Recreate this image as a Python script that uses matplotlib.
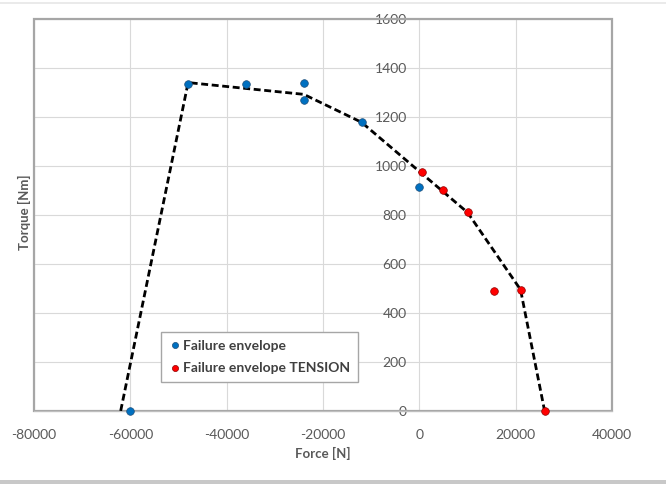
import matplotlib.pyplot as plt
from matplotlib.lines import Line2D
from matplotlib.patches import Rectangle

# failure envelope data
blue_force = [-60000, -48000, -36000, -24000, -24000, -12000, 0]
blue_torque = [0, 1335, 1335, 1338, 1270, 1180, 915]
red_force = [500, 5000, 10000, 15500, 21000, 26000]
red_torque = [975, 900, 810, 488, 492, 0]
env_force = [-62000, -48000, -24000, -12000, 10000, 21000, 26000]
env_torque = [0, 1340, 1292, 1178, 810, 495, 0]

x_ticks = [-80000, -60000, -40000, -20000, 0, 20000, 40000]
y_ticks = [0, 200, 400, 600, 800, 1000, 1200, 1400, 1600]

plt.rcParams["font.family"] = ["Lato", "DejaVu Sans"]
plt.rcParams["axes.unicode_minus"] = False
label_col = "#595959"

fig = plt.figure(figsize=(6.66, 4.84), dpi=100)
ax = fig.add_axes([0.051, 0.151, 0.868, 0.810])

ax.set_xlim(-80000, 40000)
ax.set_ylim(0, 1600)
ax.set_xticks(x_ticks)
ax.set_yticks(y_ticks)
ax.grid(True, color="#d9d9d9", lw=0.8)
ax.set_axisbelow(True)

# y axis crosses at force = 0, like Excel
ax.spines["left"].set_position(("data", 0))
ax.spines["left"].set_visible(False)
for s in ["top", "right"]:
    ax.spines[s].set_visible(False)
ax.spines["bottom"].set_color("#bfbfbf")
ax.add_patch(Rectangle((0, 0), 1, 1, transform=ax.transAxes, fill=False,
                       edgecolor="#a6a6a6", lw=1.6, clip_on=False, zorder=1))

ax.tick_params(length=0, labelsize=10, labelcolor=label_col)
ax.tick_params(axis="x", pad=13)
ax.tick_params(axis="y", pad=9)

ax.plot(env_force, env_torque, color="black", lw=2, ls=(0, (2.5, 1.3)), zorder=3)
ax.plot(blue_force, blue_torque, "o", color="#0070c0", mec="#1f4e79", mew=0.5,
        ms=5.5, clip_on=False, zorder=4, label="Failure envelope")
ax.plot(red_force, red_torque, "o", color="#ff0000", mec="#8b0000", mew=0.5,
        ms=5.5, clip_on=False, zorder=4, label="Failure envelope TENSION")

ax.set_xlabel("Force [N]", fontsize=9.5, color=label_col, fontweight="bold", labelpad=4)
fig.text(0.037, 0.562, "Torque [Nm]", rotation=90, fontsize=9.5, color=label_col,
         fontweight="bold", ha="center", va="center")

leg = ax.legend(loc="lower left", bbox_to_anchor=(0.207, 0.056), fontsize=10,
                handletextpad=0.1, handlelength=1, borderpad=0.55, labelspacing=0.75,
                fancybox=False, framealpha=1, edgecolor="#a6a6a6", markerscale=0.8)
for t in leg.get_texts():
    t.set_color("#404040")
    t.set_fontweight("bold")

# chart area borders
fig.add_artist(Line2D([0, 1], [0.994, 0.994], color="#e6e6e6", lw=1.2))
fig.add_artist(Rectangle((0, 0), 1, 0.009, color="#c8c8c8", lw=0))

fig.savefig("out.png", dpi=100)
